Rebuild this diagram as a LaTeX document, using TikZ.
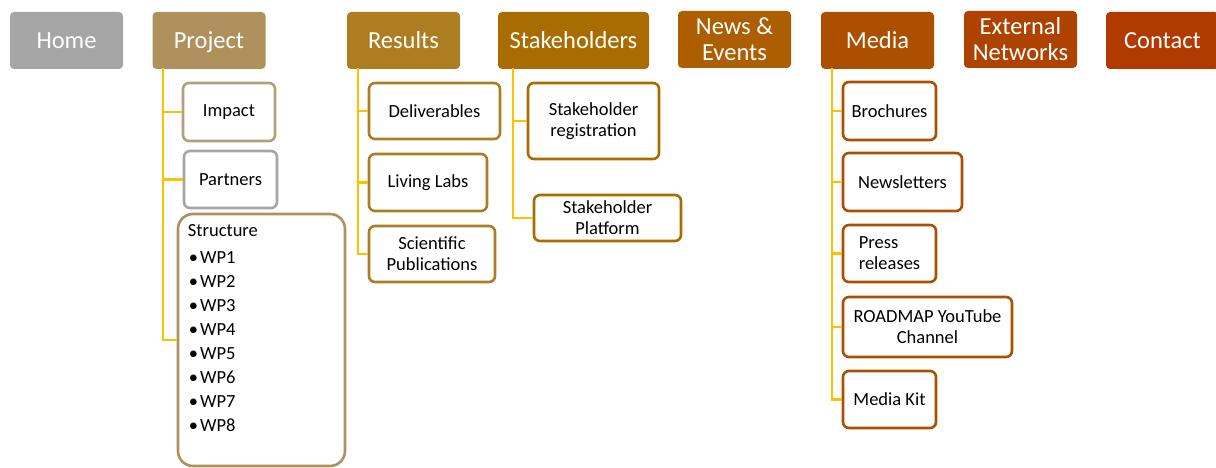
\documentclass[tikz,border=0pt]{standalone}
\usepackage{fontspec}
\setmainfont{Carlito}
\usepackage{tikz}
\usetikzlibrary{calc}
\definecolor{homegray}{HTML}{A5A5A5}
\definecolor{projtan}{HTML}{AE915C}
\definecolor{imptan}{HTML}{B39F7B}
\definecolor{resgold}{HTML}{AD7D22}
\definecolor{stakebrown}{HTML}{A86C00}
\definecolor{newsbrown}{HTML}{AD5E00}
\definecolor{mediabrown}{HTML}{AC4F00}
\definecolor{extbrown}{HTML}{AE4300}
\definecolor{contactred}{HTML}{B03A00}
\definecolor{trunkgold}{HTML}{FFC000}
\tikzset{
  topbox/.style={rounded corners=4pt, inner sep=0pt, minimum width=113pt, minimum height=57pt,
    text=white, align=center, font=\fontsize{24.5}{26}\selectfont},
  itembox/.style={draw=#1, line width=2.6pt, rounded corners=6pt, fill=white, inner sep=0pt,
    align=center, font=\fontsize{18.5}{21}\selectfont},
  branch/.style={draw=trunkgold, line width=2.8pt}
}
\newcommand{\twig}[2]{\draw[branch] (#1) |- (#2.west);}

\begin{document}
\begin{tikzpicture}[x=1pt,y=-1pt]
\useasboundingbox (0,0) rectangle (1216,468);
% menu bar
\node[topbox, fill=homegray] (home) at (66.5,40.5) {Home};
\node[topbox, fill=projtan, text depth=0pt] (project) at (209,40.5) {Project};
\node[topbox, fill=resgold] (results) at (403.5,40.5) {Results};
\node[topbox, fill=stakebrown, minimum width=151pt] (stake) at (573.5,40.5) {Stakeholders};
\node[topbox, fill=newsbrown] (news) at (734.5,39.5) {News \&\\Events};
\node[topbox, fill=mediabrown] (media) at (877.5,40.5) {Media};
\node[topbox, fill=extbrown] (external) at (1020.5,39.5) {External\\Networks};
\node[topbox, fill=contactred] (contact) at (1162.5,40.5) {Contact};
% trunk tops
\coordinate (project-t) at (163,68);
\coordinate (results-t) at (358,68);
\coordinate (stake-t) at (513,68);
\coordinate (media-t) at (832,68);
% project items
\node[itembox=imptan, minimum width=92pt, minimum height=58pt] (impact) at (229,112) {Impact};
\node[itembox=homegray, minimum width=93pt, minimum height=57pt] (partners) at (230.5,179.5) {Partners};
\node[itembox=projtan, rounded corners=15pt, minimum width=167pt, minimum height=252pt] (structure) at (261.5,340) {};
\node[anchor=north west, inner sep=0pt, align=left, font=\fontsize{18.5}{24}\selectfont] (structure-list)
  at ($(structure.north west)+(11,12)$) {Structure\\[3pt]
  \hspace{1pt}\textbullet\hspace{2pt}WP1\\ \hspace{1pt}\textbullet\hspace{2pt}WP2\\ \hspace{1pt}\textbullet\hspace{2pt}WP3\\ \hspace{1pt}\textbullet\hspace{2pt}WP4\\
  \hspace{1pt}\textbullet\hspace{2pt}WP5\\ \hspace{1pt}\textbullet\hspace{2pt}WP6\\ \hspace{1pt}\textbullet\hspace{2pt}WP7\\ \hspace{1pt}\textbullet\hspace{2pt}WP8};
% results items
\node[itembox=resgold, minimum width=131pt, minimum height=56pt] (deliv) at (434.5,111) {Deliverables};
\node[itembox=resgold, minimum width=118pt, minimum height=57pt] (labs) at (428,182.5) {Living Labs};
\node[itembox=resgold, minimum width=126pt, minimum height=56pt] (sci) at (432,254) {Scientific\\Publications};
% stakeholder items
\node[itembox=stakebrown, minimum width=131pt, minimum height=76pt] (stakereg) at (593.5,121) {Stakeholder\\registration};
\node[itembox=stakebrown, minimum width=147pt, minimum height=46pt] (stakeplat) at (607.5,218) {Stakeholder\\Platform};
% media items
\node[itembox=mediabrown, minimum width=93pt, minimum height=58pt] (broch) at (889.5,111) {Brochures};
\node[itembox=mediabrown, minimum width=119pt, minimum height=58pt] (newsl) at (902.5,182) {Newsletters};
\node[itembox=mediabrown, minimum width=93pt, minimum height=57pt, align=left] (press) at (889.5,253.5) {Press\\releases};
\node[itembox=mediabrown, minimum width=169pt, minimum height=60pt] (youtube) at (927.5,327) {ROADMAP YouTube\\Channel};
\node[itembox=mediabrown, minimum width=93pt, minimum height=57pt] (kit) at (889.5,399.5) {Media Kit};
% connectors
\twig{project-t}{impact}
\twig{project-t}{partners}
\twig{project-t}{structure}
\twig{results-t}{deliv}
\twig{results-t}{labs}
\twig{results-t}{sci}
\twig{stake-t}{stakereg}
\twig{stake-t}{stakeplat}
\twig{media-t}{broch}
\twig{media-t}{newsl}
\twig{media-t}{press}
\twig{media-t}{youtube}
\twig{media-t}{kit}
\end{tikzpicture}
\end{document}
